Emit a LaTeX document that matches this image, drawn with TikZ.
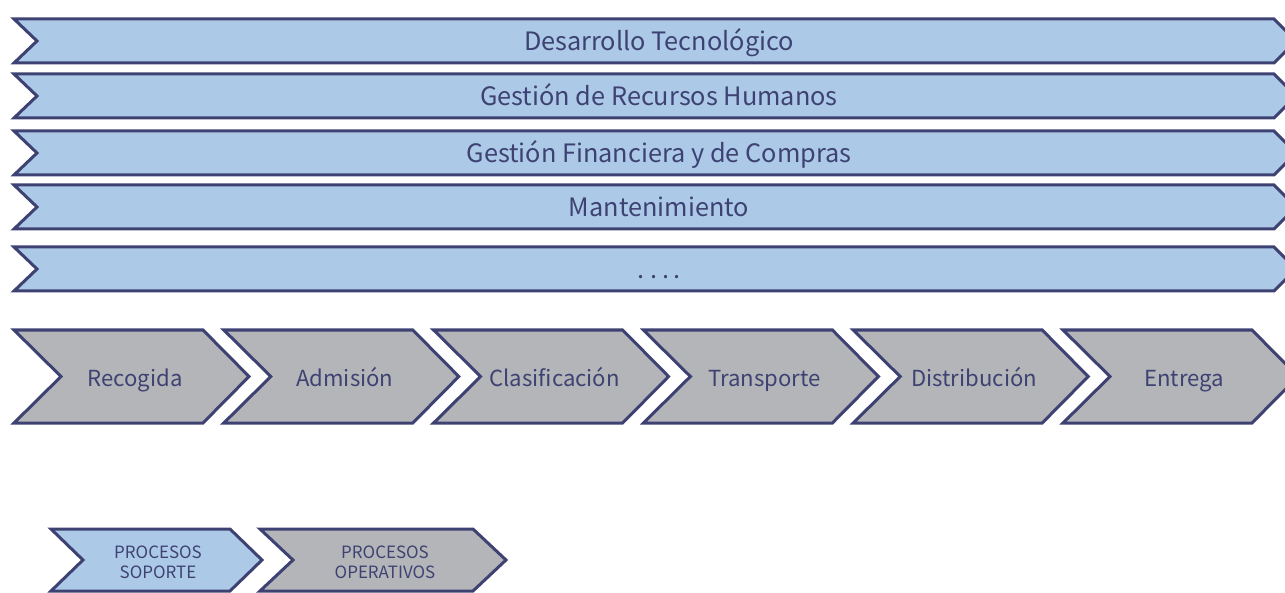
\documentclass[tikz,border=0pt]{standalone}
\usepackage{fontspec}
\setmainfont{Noto Sans CJK KR}
\definecolor{bandblue}{HTML}{ACCAE8}
\definecolor{bandgray}{HTML}{B4B5B9}
\definecolor{navy}{HTML}{3E4272}
\newcommand{\fourdots}{.\kern6bp.\kern5bp.\kern3bp.}
\begin{document}
\begin{tikzpicture}[x=1bp,y=-1bp,
  shp/.style={draw=navy,line width=3bp,line join=miter},
  lbl/.style={text=navy,font=\fontsize{25.4}{28}\selectfont,inner sep=0pt,anchor=base,text height=0pt,text depth=0pt},
  clbl/.style={lbl,font=\fontsize{22.2}{26}\selectfont},
  small/.style={text=navy,font=\fontsize{17}{20}\selectfont,inner sep=0pt,align=center,anchor=center}]
\useasboundingbox (0,0) rectangle (1285,593);
\clip (0,0) rectangle (1285,593);
% support bands
\foreach \t/\b/\n/\txt in {19/63/b1/Desarrollo Tecnológico,74/118/b2/Gestión de Recursos Humanos,131/175/b3/Gestión Financiera y de Compras,185/229/b4/Mantenimiento,247/291/b5/\fourdots}{
  \pgfmathsetmacro{\m}{(\t+\b)/2}
  \draw[shp,fill=bandblue] (14,\t) -- (1274,\t) -- (1296,\m) -- (1274,\b) -- (14,\b) -- (37,\m) -- cycle;
  \node[lbl] (\n) at (659,\m+10) {\txt};
}
% operational chevrons
\foreach \i/\n/\txt in {0/c1/Recogida,1/c2/Admisión,2/c3/Clasificación,3/c4/Transporte,4/c5/Distribución,5/c6/Entrega}{
  \pgfmathsetmacro{\x}{14+209.8*\i}
  \draw[shp,fill=bandgray] (\x,330) -- (\x+189,330) -- (\x+235,376.5) -- (\x+189,423) -- (\x,423) -- (\x+47,376.5) -- cycle;
  \node[clbl] (\n) at (\x+121,386) {\txt};
}
% legend
\draw[shp,fill=bandblue] (51,529) -- (230,529) -- (262,560) -- (230,591) -- (51,591) -- (83,560) -- cycle;
\node[small] (l1) at (158,562) {PROCESOS\\SOPORTE};
\draw[shp,fill=bandgray] (260,529) -- (473,529) -- (506,560) -- (473,591) -- (260,591) -- (293,560) -- cycle;
\node[small] (l2) at (385,562) {PROCESOS\\OPERATIVOS};
\end{tikzpicture}
\end{document}
